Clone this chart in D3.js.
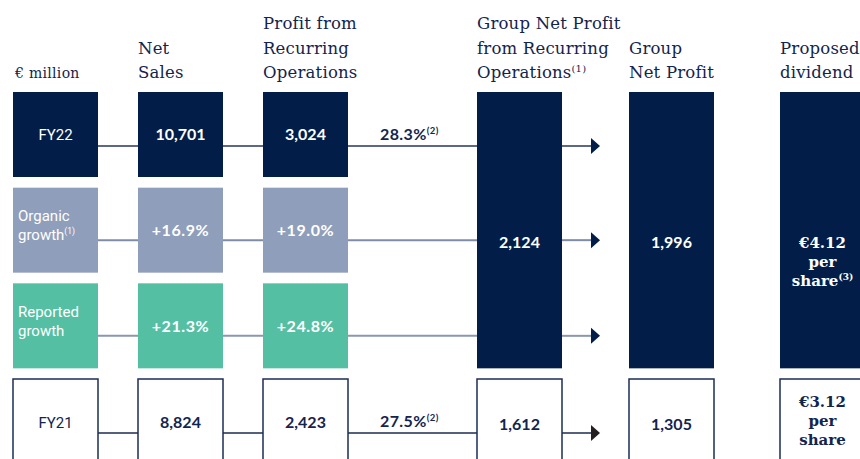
<!DOCTYPE html>
<html>
<head>
<meta charset="utf-8">
<script src="https://cdn.jsdelivr.net/npm/d3@7"></script>
<style>
  body { margin: 0; background: #fff; }
  svg { display: block; }
</style>
</head>
<body>
<div id="chart"></div>
<script>
// data
var columns = ["label", "sales", "profit", "groupRec", "groupNet", "dividend"];
var headers = [
  ["€ million"],
  ["Net", "Sales"],
  ["Profit from", "Recurring", "Operations"],
  ["Group Net Profit", "from Recurring", "Operations|(1)"],
  ["Group", "Net Profit"],
  ["Proposed", "dividend"]
];
var rows = ["FY22", "organic", "reported", "FY21"];
var rowLabels = [["FY22"], ["Organic", "growth|(1)"], ["Reported", "growth"], ["FY21"]];
var salesValues = ["10,701", "+16.9%", "+21.3%", "8,824"];
var profitValues = ["3,024", "+19.0%", "+24.8%", "2,423"];
var marginValues = ["28.3%", null, null, "27.5%"];
var groupRecValues = { FY22: "2,124", FY21: "1,612" };
var groupNetValues = { FY22: "1,996", FY21: "1,305" };
var dividendValues = { FY22: ["€4.12", "per", "share|(3)"], FY21: ["€3.12", "per", "share"] };

var width = 860, height = 459;
var navy = "#021e48", grey = "#8f9eba", green = "#54bfa3";
var rowFill = [navy, grey, green, "#fff"];
var lineColor = ["#26365e", "#7f8ca6", "#8a97b0", "#1c2b52"];
var arrowColor = [navy, navy, navy, "#231f20"];

var svg = d3.select("#chart").append("svg")
  .attr("width", width)
  .attr("height", height);

// scales
var x = d3.scaleOrdinal().domain(columns).range([13, 138, 263, 477, 629, 780]);
var boxW = 85;
var y = d3.scaleBand().domain(rows).range([92, 464]).paddingInner(0.1115);
var bw = y.bandwidth();
var lineOffset = 54;

// helper: write text with "|" marking a superscript part
function addText(sel, str, supSize) {
  var parts = str.split("|");
  sel.append("tspan").text(parts[0]);
  if (parts[1]) {
    sel.append("tspan")
      .attr("font-size", supSize || 9)
      .attr("dy", -6)
      .text(parts[1]);
  }
}

// headers
headers.forEach(function (lines, i) {
  var n = lines.length;
  lines.forEach(function (ln, j) {
    var t = svg.append("text")
      .attr("x", x(columns[i]) + (i === 0 ? 2 : 0))
      .attr("y", 78 - (n - 1 - j) * 24.5)
      .attr("font-family", "DejaVu Serif")
      .attr("font-size", i === 0 ? 14 : 16.5)
      .attr("letter-spacing", i === 0 ? 0.3 : 0.2)
      .attr("fill", "#13244d");
    addText(t, ln, 10);
  });
});

// connecting lines
rows.forEach(function (r, i) {
  var ly = y(r) + lineOffset + (i === 1 || i === 2 ? -1.5 : 0);
  svg.append("line")
    .attr("x1", x("label") + boxW).attr("x2", x("groupRec"))
    .attr("y1", ly).attr("y2", ly)
    .attr("stroke", lineColor[i])
    .attr("stroke-width", i === 1 || i === 2 ? 2 : 1.5);
  var ax1 = x("groupRec") + boxW, ax2 = x("groupNet") - 29;
  svg.append("line")
    .attr("x1", ax1).attr("x2", ax2 - 8)
    .attr("y1", ly).attr("y2", ly)
    .attr("stroke", lineColor[i])
    .attr("stroke-width", i === 1 || i === 2 ? 2 : 1.5);
  svg.append("path")
    .attr("d", "M" + (ax2 - 9) + "," + (ly - 8) + "L" + ax2 + "," + ly + "L" + (ax2 - 9) + "," + (ly + 8) + "Z")
    .attr("fill", arrowColor[i]);
});

// row boxes for first three columns
["label", "sales", "profit"].forEach(function (c) {
  svg.selectAll(".box-" + c)
    .data(rows)
    .enter()
    .append("rect")
    .attr("x", x(c))
    .attr("y", function (d) { return y(d); })
    .attr("width", boxW)
    .attr("height", function (d, i) { return i === 3 ? height : bw; })
    .attr("fill", function (d, i) { return rowFill[i]; })
    .attr("stroke", function (d, i) { return i === 3 ? "#1d2d55" : "none"; })
    .attr("stroke-width", 1.5);
});

// tall FY22 boxes and FY21 boxes for last three columns
["groupRec", "groupNet", "dividend"].forEach(function (c) {
  svg.append("rect")
    .attr("x", x(c)).attr("y", y("FY22"))
    .attr("width", boxW)
    .attr("height", y("reported") + bw - y("FY22"))
    .attr("fill", navy);
  svg.append("rect")
    .attr("x", x(c)).attr("y", y("FY21"))
    .attr("width", boxW)
    .attr("height", height)
    .attr("fill", "#fff")
    .attr("stroke", "#1d2d55")
    .attr("stroke-width", 1.5);
});

// row labels
rowLabels.forEach(function (lines, i) {
  var r = rows[i];
  var cy = y(r) + bw / 2;
  if (lines.length === 1) {
    svg.append("text")
      .attr("x", x("label") + boxW / 2)
      .attr("y", cy + 6)
      .attr("text-anchor", "middle")
      .attr("font-family", "Roboto")
      .attr("font-size", 15)
      .attr("fill", i === 3 ? "#13244d" : "#fff")
      .text(lines[0]);
  } else {
    lines.forEach(function (ln, j) {
      var t = svg.append("text")
        .attr("x", x("label") + 5)
        .attr("y", cy - 3 + j * 19 - 6)
        .attr("font-family", "Roboto")
        .attr("font-size", 15)
        .attr("fill", "#fff");
      addText(t, ln, 8.5);
    });
  }
});

// values in sales and profit columns
[["sales", salesValues], ["profit", profitValues]].forEach(function (p) {
  svg.selectAll(".val-" + p[0])
    .data(p[1])
    .enter()
    .append("text")
    .attr("x", x(p[0]) + boxW / 2)
    .attr("y", function (d, i) { return y(rows[i]) + bw / 2 + 6; })
    .attr("text-anchor", "middle")
    .attr("font-family", "Lato")
    .attr("font-weight", "bold")
    .attr("font-size", 16)
    .attr("letter-spacing", function (d, i) { return (i === 1 || i === 2) ? 0.6 : 0; })
    .attr("fill", function (d, i) { return i === 3 ? "#13244d" : "#fff"; })
    .text(function (d) { return d; });
});

// margins
marginValues.forEach(function (m, i) {
  if (!m) return;
  var t = svg.append("text")
    .attr("x", x("profit") + boxW + 32)
    .attr("y", y(rows[i]) + lineOffset - 6)
    .attr("font-family", "Lato")
    .attr("font-weight", "bold")
    .attr("font-size", 16)
    .attr("letter-spacing", 0.4)
    .attr("fill", "#13244d");
  addText(t, m + "|(2)", 9.5);
});

// group values
[["groupRec", groupRecValues], ["groupNet", groupNetValues]].forEach(function (p) {
  svg.append("text")
    .attr("x", x(p[0]) + boxW / 2)
    .attr("y", y("organic") + lineOffset + 6)
    .attr("text-anchor", "middle")
    .attr("font-family", "Lato")
    .attr("font-weight", "bold")
    .attr("font-size", 16)
    .attr("fill", "#fff")
    .text(p[1].FY22);
  svg.append("text")
    .attr("x", x(p[0]) + boxW / 2)
    .attr("y", y("FY21") + bw / 2 + 8)
    .attr("text-anchor", "middle")
    .attr("font-family", "Lato")
    .attr("font-weight", "bold")
    .attr("font-size", 16)
    .attr("fill", "#13244d")
    .text(p[1].FY21);
});

// dividend
[["FY22", y("organic") + lineOffset + 6, "#fff"], ["FY21", y("FY21") + 28, "#13244d"]].forEach(function (p) {
  dividendValues[p[0]].forEach(function (ln, j) {
    var t = svg.append("text")
      .attr("x", x("dividend") + boxW / 2)
      .attr("y", p[1] + j * 19)
      .attr("text-anchor", "middle")
      .attr("font-family", "DejaVu Serif")
      .attr("font-weight", "bold")
      .attr("font-size", 15)
      .attr("fill", p[2]);
    addText(t, ln, 9);
  });
});
</script>
</body>
</html>
